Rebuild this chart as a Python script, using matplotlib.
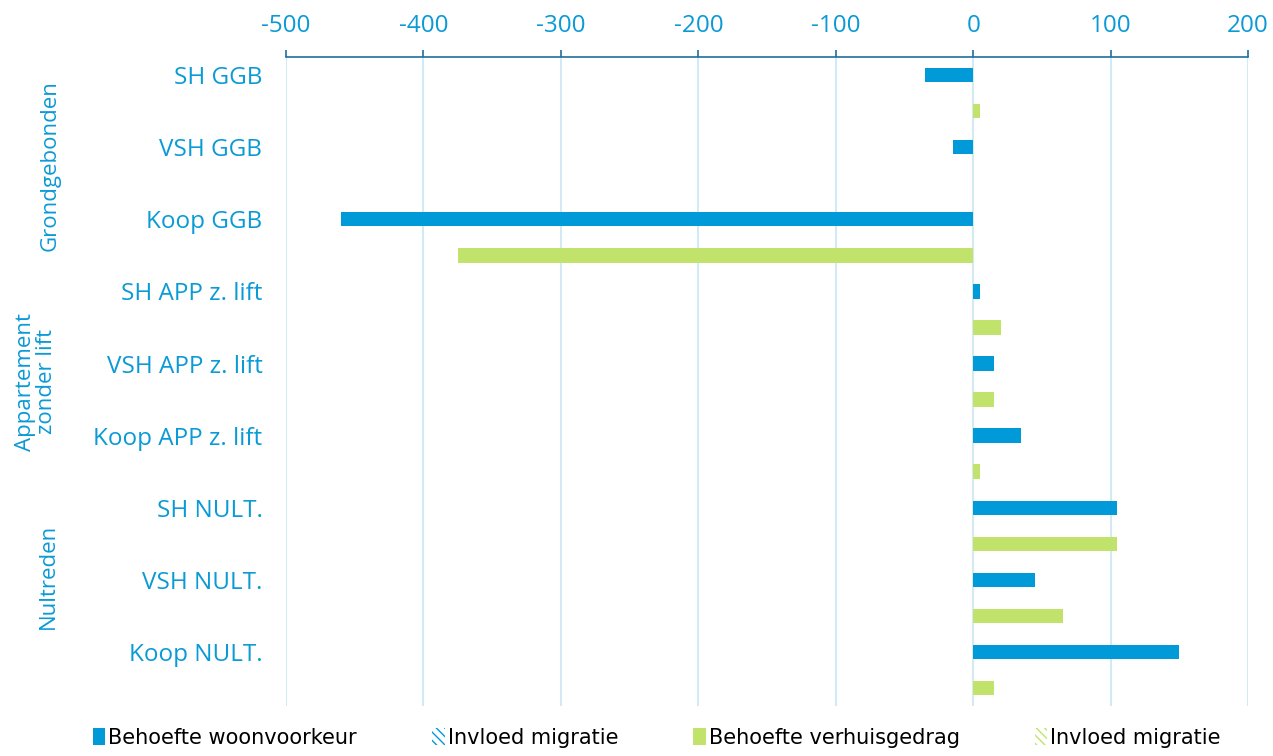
import matplotlib
matplotlib.use('Agg')
import matplotlib.pyplot as plt
import matplotlib.transforms as mtransforms
from matplotlib.patches import Patch
import numpy as np

plt.rcParams['font.family'] = ['Open Sans', 'DejaVu Sans']
plt.rcParams['axes.unicode_minus'] = False

# ── data ─────────────────────────────────────────────────────────────────────
categories = ['SH GGB', 'VSH GGB', 'Koop GGB',
              'SH APP z. lift', 'VSH APP z. lift', 'Koop APP z. lift',
              'SH NULT.', 'VSH NULT.', 'Koop NULT.']
woonvoorkeur = [-35, -15, -460, 5, 15, 35, 105, 45, 150]
verhuisgedrag = [5, 0, -375, 20, 15, 5, 105, 65, 15]
migratie_woonvoorkeur = [0, 0, 0, 0, 0, 0, 0, 0, 0]
migratie_verhuisgedrag = [0, 0, 0, 0, 0, 0, 0, 0, 0]
groups = ['Grondgebonden', 'Appartement\nzonder lift', 'Nultreden']
group_pos = [1.5, 4.5, 7.2]
xticks = [-500, -400, -300, -200, -100, 0, 100, 200]

BLUE = '#009ad8'
GREEN = '#c1e36c'
TEXT = '#0a9ad6'
GRID = '#d3e9f5'
AXIS = '#1f6e9c'

# ── plot ─────────────────────────────────────────────────────────────────────
fig = plt.figure(figsize=(12.73, 7.56), dpi=100)
ax = fig.add_axes([0.2247, 0.066, 0.7557, 0.8586])

y = np.arange(len(categories))
h = 0.2
ax.barh(y + 0.25, woonvoorkeur, height=h, color=BLUE, linewidth=0)
ax.barh(y + 0.25, migratie_woonvoorkeur, left=woonvoorkeur, height=h,
        color='white', edgecolor=BLUE, hatch='\\\\\\', linewidth=0)
ax.barh(y + 0.75, verhuisgedrag, height=h, color=GREEN, linewidth=0)
ax.barh(y + 0.75, migratie_verhuisgedrag, left=verhuisgedrag, height=h,
        color='white', edgecolor=GREEN, hatch='\\\\\\', linewidth=0)

ax.set_xlim(-500, 200)
ax.set_ylim(len(categories), 0)
ax.set_xticks(xticks)
ax.xaxis.tick_top()
ax.tick_params(axis='x', colors=AXIS, labelcolor=TEXT, labelsize=17.5,
               length=5, width=1.2, pad=9, direction='out')
ax.set_yticks(y + 0.25)
ax.set_yticklabels(categories)
ax.tick_params(axis='y', length=0, labelcolor=TEXT, labelsize=17.5, pad=17)

ax.grid(axis='x', color=GRID, linewidth=1.5)
ax.set_axisbelow(True)
for side in ('left', 'right', 'bottom'):
    ax.spines[side].set_visible(False)
ax.spines['top'].set_color(AXIS)
ax.spines['top'].set_linewidth(1.2)

# group labels on the far left
trans = mtransforms.blended_transform_factory(fig.transFigure, ax.transData)
group_x = [0.039, 0.028, 0.038]
for name, gy, gx in zip(groups, group_pos, group_x):
    ax.text(gx, gy, name, transform=trans, rotation=90, ha='center',
            va='center', multialignment='center', color=TEXT, fontsize=16,
            linespacing=1.0)

handles = [
    Patch(facecolor=BLUE, linewidth=0),
    Patch(facecolor='white', edgecolor=BLUE, hatch='\\\\\\\\', linewidth=0),
    Patch(facecolor=GREEN, linewidth=0),
    Patch(facecolor='white', edgecolor=GREEN, hatch='\\\\\\\\', linewidth=0),
]
labels = ['Behoefte woonvoorkeur', 'Invloed migratie',
          'Behoefte verhuisgedrag', 'Invloed migratie']
fig.legend(handles, labels, loc='lower center', bbox_to_anchor=(0.516, -0.014),
           ncol=4, frameon=False, handlelength=0.6,
           handleheight=0.9, handletextpad=0.15, columnspacing=3.6,
           prop={'family': ['DejaVu Sans'], 'size': 15})

fig.savefig('out.png', dpi=100)
